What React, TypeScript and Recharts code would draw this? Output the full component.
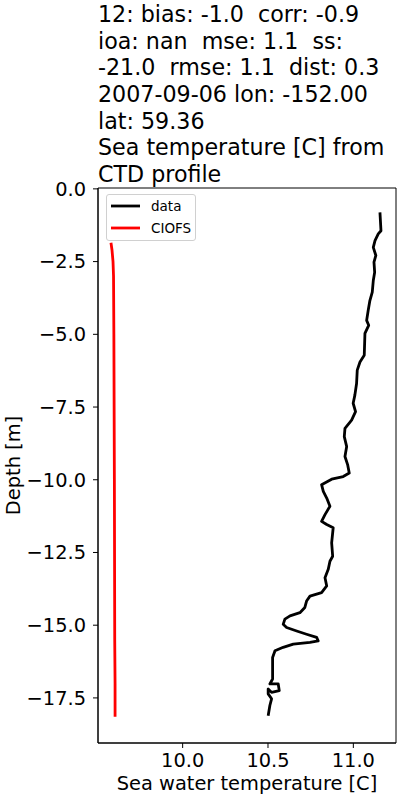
import {
  ScatterChart, Scatter, XAxis, YAxis, Legend, Label, ReferenceArea,
} from "recharts";

// CTD cast (black) vs CIOFS model (red), temperature vs depth
const obsTemp = [
  11.156, 11.162, 11.146, 11.127, 11.117, 11.132, 11.121, 11.125, 11.117, 11.111,
  11.097, 11.087, 11.078, 11.090, 11.068, 11.064, 11.039, 11.023, 11.019, 11.009,
  10.999, 11.013, 10.990, 10.951, 10.947, 10.961, 10.951, 10.967, 10.976, 10.941,
  10.873, 10.814, 10.824, 10.844, 10.863, 10.834, 10.814, 10.844, 10.882, 10.873,
  10.879, 10.863, 10.853, 10.834, 10.844, 10.814, 10.746, 10.726, 10.716, 10.687,
  10.629, 10.599, 10.589, 10.609, 10.668, 10.726, 10.785, 10.794, 10.746, 10.648,
  10.589, 10.541, 10.527, 10.527, 10.511, 10.560, 10.566, 10.521, 10.501, 10.501,
  10.521, 10.511, 10.501,
];
const obsDepth = [
  -0.81, -1.44, -1.55, -1.78, -2.01, -2.29, -2.52, -2.87, -3.15, -3.55,
  -3.84, -4.18, -4.52, -4.69, -4.97, -5.72, -5.95, -6.23, -6.69, -7.09,
  -7.37, -7.66, -7.95, -8.23, -8.52, -8.86, -9.2, -9.49, -9.77, -9.89,
  -9.98, -10.17, -10.4, -10.63, -10.91, -11.2, -11.43, -11.54, -11.65, -12.17,
  -12.63, -12.8, -13.08, -13.37, -13.65, -13.88, -14.0, -14.17, -14.39, -14.57,
  -14.68, -14.79, -14.97, -15.08, -15.2, -15.31, -15.42, -15.54, -15.59, -15.65,
  -15.76, -15.88, -16.11, -16.85, -17.02, -17.02, -17.25, -17.31, -17.19, -17.36,
  -17.53, -17.76, -18.11,
];

const modelTemp = [9.580, 9.586, 9.592, 9.595, 9.597, 9.600, 9.602, 9.604, 9.604];
const modelDepth = [-1.85, -2.1, -2.5, -3.0, -5.0, -10.0, -15.5, -17.0, -18.15];

const seriesNames = ["data", "CIOFS"];
const xDomain = [9.504, 11.25];
const yDomain = [-19.05, 0.03];
const xTicks = [10.0, 10.5, 11.0];
const yTicks = [0, -2.5, -5, -7.5, -10, -12.5, -15, -17.5];

const titleLines = [
  "12: bias: -1.0  corr: -0.9",
  "ioa: nan  mse: 1.1  ss:",
  "-21.0  rmse: 1.1  dist: 0.3",
  "2007-09-06 lon: -152.00",
  "lat: 59.36",
  "Sea temperature [C] from",
  "CTD profile",
];

const obsData = obsTemp.map((t, i) => ({ t, d: obsDepth[i] }));
const modelData = modelTemp.map((t, i) => ({ t, d: modelDepth[i] }));

const FONT = "'DejaVu Sans', sans-serif";
const fmt = (v: number) => v.toFixed(1).replace("-", "\u2212");
const noDot = () => <g />;

function LegendBox({ payload }: any) {
  const items = [...(payload || [])].sort(
    (a: any, b: any) => seriesNames.indexOf(a.value) - seriesNames.indexOf(b.value)
  );
  return (
    <div
      style={{
        width: 88, height: 45, border: "1px solid #d0d0d0", borderRadius: 3,
        background: "rgba(255,255,255,0.8)", fontFamily: FONT, fontSize: 13.5,
      }}
    >
      {items.map((p: any) => (
        <div key={p.value} style={{ display: "flex", alignItems: "center", height: 22 }}>
          <svg width={40} height={22}>
            <line x1={4} x2={33} y1={11} y2={11} stroke={p.color} strokeWidth={2.8} />
          </svg>
          <span style={{ marginLeft: 4, color: "#000" }}>{p.value}</span>
        </div>
      ))}
    </div>
  );
}

export default function App() {
  return (
    <div style={{ position: "absolute", left: 0, top: 0, width: 400, height: 800, background: "#fff" }}>
      <div
        style={{
          position: "absolute", left: 98, top: 1, fontFamily: FONT, fontSize: 22.2,
          lineHeight: "26.67px", color: "#000", whiteSpace: "pre",
        }}
      >
        {titleLines.map((l) => (
          <div key={l}>{l}</div>
        ))}
      </div>
      <ScatterChart
        width={400}
        height={800}
        margin={{ top: 188, right: 4, bottom: 0, left: 0 }}
        style={{ fontFamily: FONT }}
      >
        <XAxis
          type="number"
          dataKey="t"
          domain={xDomain}
          allowDataOverflow
          ticks={xTicks}
          tickFormatter={fmt}
          height={57}
          stroke="#000"
          tickSize={5}
          tickMargin={5}
          tick={{ fill: "#000", fontSize: 19.4 }}
        >
          <Label
            value="Sea water temperature [C]"
            position="insideBottom"
            offset={10}
            style={{ fill: "#000", fontSize: 19.4 }}
          />
        </XAxis>
        <YAxis
          type="number"
          dataKey="d"
          domain={yDomain}
          allowDataOverflow
          ticks={yTicks}
          tickFormatter={fmt}
          width={98}
          stroke="#000"
          tickSize={5}
          tickMargin={7}
          tick={{ fill: "#000", fontSize: 19.4 }}
        >
          <Label
            value="Depth [m]"
            angle={-90}
            position="insideLeft"
            offset={13}
            style={{ fill: "#000", fontSize: 19.4, textAnchor: "middle" }}
          />
        </YAxis>
        {/* axes frame on all four sides */}
        <ReferenceArea
          x1={xDomain[0]}
          x2={xDomain[1]}
          y1={yDomain[0]}
          y2={yDomain[1]}
          fill="none"
          fillOpacity={0}
          stroke="#000"
          strokeWidth={1}
        />
        <Legend
          layout="vertical"
          align="center"
          verticalAlign="middle"
          wrapperStyle={{ left: 106, top: 194, width: 90, height: 47 }}
          content={<LegendBox />}
        />
        <Scatter
          name="data"
          data={obsData}
          fill="#000"
          line={{ stroke: "#000", strokeWidth: 2.8, strokeLinejoin: "round" }}
          lineType="joint"
          lineJointType="linear"
          shape={noDot}
          legendType="line"
          isAnimationActive={false}
        />
        <Scatter
          name="CIOFS"
          data={modelData}
          fill="#ff0000"
          line={{ stroke: "#ff0000", strokeWidth: 2.8, strokeLinejoin: "round" }}
          lineType="joint"
          lineJointType="linear"
          shape={noDot}
          legendType="line"
          isAnimationActive={false}
        />
      </ScatterChart>
    </div>
  );
}
